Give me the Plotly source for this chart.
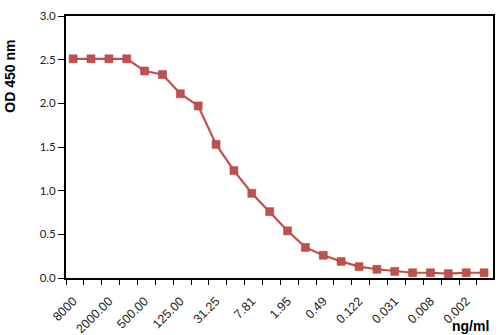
import plotly.graph_objects as go

categories = ["8000", "4000.00", "2000.00", "1000.00", "500.00", "250.00", "125.00", "62.50",
              "31.25", "15.63", "7.81", "3.91", "1.95", "0.98", "0.49", "0.244",
              "0.122", "0.061", "0.031", "0.015", "0.008", "0.004", "0.002", "0.001"]
od450 = [2.51, 2.51, 2.51, 2.51, 2.37, 2.33, 2.11, 1.97, 1.53, 1.23, 0.97, 0.76,
         0.54, 0.35, 0.26, 0.19, 0.13, 0.10, 0.076, 0.06, 0.06, 0.05, 0.06, 0.06]
y_ticks = [0.0, 0.5, 1.0, 1.5, 2.0, 2.5, 3.0]

idx = list(range(len(categories)))
shown = idx[::2]

fig = go.Figure()
fig.add_trace(go.Scatter(
    x=idx, y=od450, mode="lines+markers",
    line=dict(color="#C0504D", width=2.2),
    marker=dict(symbol="square", size=8, color="#C0504D",
                line=dict(color="#B03E3B", width=0.5)),
    showlegend=False, hoverinfo="skip",
))

fig.update_layout(
    width=500, height=335,
    margin=dict(l=66, r=7, t=16, b=57),
    plot_bgcolor="white", paper_bgcolor="white",
    font=dict(family="Liberation Sans, Arial", color="#222"),
)
fig.update_xaxes(
    range=[-0.4, 23.5], tickmode="array", tickvals=shown,
    ticktext=[categories[i] for i in shown], tickangle=-45,
    ticks="outside", ticklen=9, tickcolor="rgba(0,0,0,0)",
    showgrid=False, zeroline=False, automargin=False,
    showline=True, linecolor="black", linewidth=2, mirror=True,
    tickfont=dict(size=12.5, family="Liberation Sans, Arial", color="#222"),
    minor=dict(ticks="outside", tick0=-0.4, dtick=1, ticklen=5,
               tickcolor="black", tickwidth=1, showgrid=False),
)
fig.update_yaxes(
    range=[0, 3], tickmode="array", tickvals=y_ticks,
    ticktext=[f"{v:.1f}" for v in y_ticks], automargin=False,
    ticks="outside", ticklen=6, tickcolor="black", tickwidth=1,
    showgrid=False, zeroline=False,
    showline=True, linecolor="black", linewidth=2, mirror=True,
    tickfont=dict(size=11.5, family="Lato, Liberation Sans", color="#222"),
)
fig.add_annotation(text="<b>OD 450 nm</b>", textangle=-90, xref="paper", yref="paper",
                   x=-0.13, y=0.77, xanchor="center", yanchor="middle", showarrow=False,
                   font=dict(size=14, family="Liberation Sans, Arial", color="black"))
fig.add_annotation(text="<b>ng/ml</b>", xref="paper", yref="paper",
                   x=0.995, y=-0.145, xanchor="right", yanchor="top", showarrow=False,
                   font=dict(size=14, family="Liberation Sans, Arial", color="black"))

fig.write_html("out.html", config={"displayModeBar": False},
               post_script="document.body.style.margin='0';document.body.style.overflow='hidden';")
